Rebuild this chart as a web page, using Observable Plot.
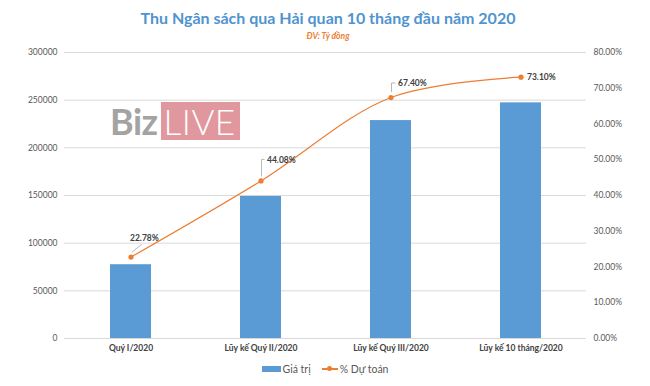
<!DOCTYPE html>
<html><head><meta charset="utf-8">
<script src="https://cdn.jsdelivr.net/npm/d3@7"></script>
<script src="https://cdn.jsdelivr.net/npm/@observablehq/plot@0.6"></script>
<style>
body{margin:0;background:#fff;font-family:Lato,"Open Sans",sans-serif;}
#wrap{position:relative;width:650px;height:386px;overflow:hidden;background:#fff}
#title{position:absolute;top:7px;left:3px;width:650px;text-align:center;font-weight:bold;font-size:16px;line-height:22px;color:#4f94d0}
#sub{position:absolute;top:30px;left:3px;width:650px;text-align:center;font-weight:bold;font-style:italic;font-size:8.5px;line-height:12px;color:#ed7d31}
#chart{position:absolute;top:44px;left:0}
#wm{position:absolute;left:110px;top:102px;height:38px;display:flex;align-items:stretch;pointer-events:none}
#wm .biz{color:#a3a3a3;font-weight:bold;font-size:36px;line-height:38px;letter-spacing:-0.5px;margin-right:3px}
#wm .live{background:#e0979e;color:#fff;font-size:35px;line-height:38px;padding:0 4px 0 3px;font-weight:300;letter-spacing:0.5px}
#legend{position:absolute;top:362px;left:0;width:650px;display:flex;justify-content:center;align-items:center;font-size:10.5px;color:#595959;line-height:14px}
#legend .sw{display:inline-block;width:19px;height:6px;background:#5b9bd5;margin-right:2px}
#legend .ln{display:inline-block;position:relative;width:16px;height:2px;background:#ed7d31;margin:0 2px 0 11px}
#legend .ln::after{content:"";position:absolute;left:5.5px;top:-2px;width:5px;height:5px;border-radius:50%;background:#ed7d31}
</style></head>
<body>
<div id="wrap">
  <div id="title">Thu Ngân sách qua Hải quan 10 tháng đầu năm 2020</div>
  <div id="sub">ĐV: Tỷ đồng</div>
  <div id="chart"></div>
  <div id="wm"><span class="biz">Biz</span><span class="live">LIVE</span></div>
  <div id="legend"><span class="sw"></span><span>Giá trị</span><span class="ln"></span><span>% Dự toán</span></div>
</div>
<script>
const categories = ["Quý I/2020", "Lũy kế Quý II/2020", "Lũy kế Quý III/2020", "Lũy kế 10 tháng/2020"];
const values = [77400, 149000, 228600, 247200];
const percents = [22.78, 44.08, 67.40, 73.10];
const leftTicks = [0, 50000, 100000, 150000, 200000, 250000, 300000];
const rightTicks = [0, 10, 20, 30, 40, 50, 60, 70, 80];
const valueMax = 300000;
const pctMax = 80;

// layout of the data labels (pixel nudges, not data)
const labelLayout = [
  {dx: -1, dy: -18.5, leader: [[1.5, -4.5], [11, -12]]},
  {dx: 6, dy: -21, leader: [[1, -4], [1, -21], [4, -21]]},
  {dx: 7, dy: -14, leader: [[1, -5], [1, -14], [5, -14]]},
  {dx: 6, dy: 0, leader: null}
];

const toY = p => p / pctMax * valueMax;
const data = categories.map((c, i) => ({cat: c, value: values[i], pct: percents[i]}));

const labelMarks = data.map((d, i) => Plot.text([d], {
  x: "cat", y: e => toY(e.pct), text: e => e.pct.toFixed(2) + "%",
  textAnchor: "start", dx: labelLayout[i].dx, dy: labelLayout[i].dy,
  fontWeight: "bold", fill: "#404040", fontSize: 8.5
}));

const plot = Plot.plot({
  width: 650, height: 314,
  marginTop: 8, marginBottom: 20, marginLeft: 64, marginRight: 64,
  style: {fontFamily: "Lato, sans-serif", fontSize: "8.5px", color: "#595959", background: "transparent", overflow: "visible"},
  x: {domain: categories, paddingInner: 0.686, paddingOuter: 0.343, label: null},
  y: {domain: [0, valueMax], label: null},
  marks: [
    Plot.gridY(leftTicks, {stroke: "#d9d9d9", strokeOpacity: 1, strokeWidth: 1}),
    Plot.barY(data, {x: "cat", y: "value", fill: "#5b9bd5"}),
    Plot.line(data, {x: "cat", y: d => toY(d.pct), stroke: "#ed7d31", strokeWidth: 1.2, curve: "catmull-rom"}),
    Plot.dot(data, {x: "cat", y: d => toY(d.pct), r: 2.6, fill: "#ed7d31", stroke: null}),
    Plot.axisY(leftTicks, {anchor: "left", tickSize: 0, tickPadding: 7, tickFormat: d => String(d), label: null, fill: "#595959"}),
    Plot.axisY(rightTicks.map(toY), {anchor: "right", tickSize: 0, tickPadding: 7, tickFormat: d => (d / valueMax * pctMax).toFixed(2) + "%", label: null, fill: "#595959"}),
    Plot.axisX({tickSize: 0, tickPadding: 6, fontWeight: "bold", fill: "#404040", label: null}),
    ...labelMarks
  ]
});
document.getElementById("chart").appendChild(plot);

// leader lines for the data labels, placed with the plot's own scales
const xs = plot.scale("x"), ys = plot.scale("y");
const svg = d3.select(plot);
data.forEach((d, i) => {
  const L = labelLayout[i].leader;
  if (!L) return;
  const cx = xs.apply(d.cat) + xs.bandwidth / 2;
  const cy = ys.apply(toY(d.pct));
  svg.append("path")
    .attr("d", d3.line()(L.map(([ox, oy]) => [cx + ox, cy + oy])))
    .attr("fill", "none").attr("stroke", "#a6a6a6").attr("stroke-width", 0.8);
});
</script>
</body></html>
